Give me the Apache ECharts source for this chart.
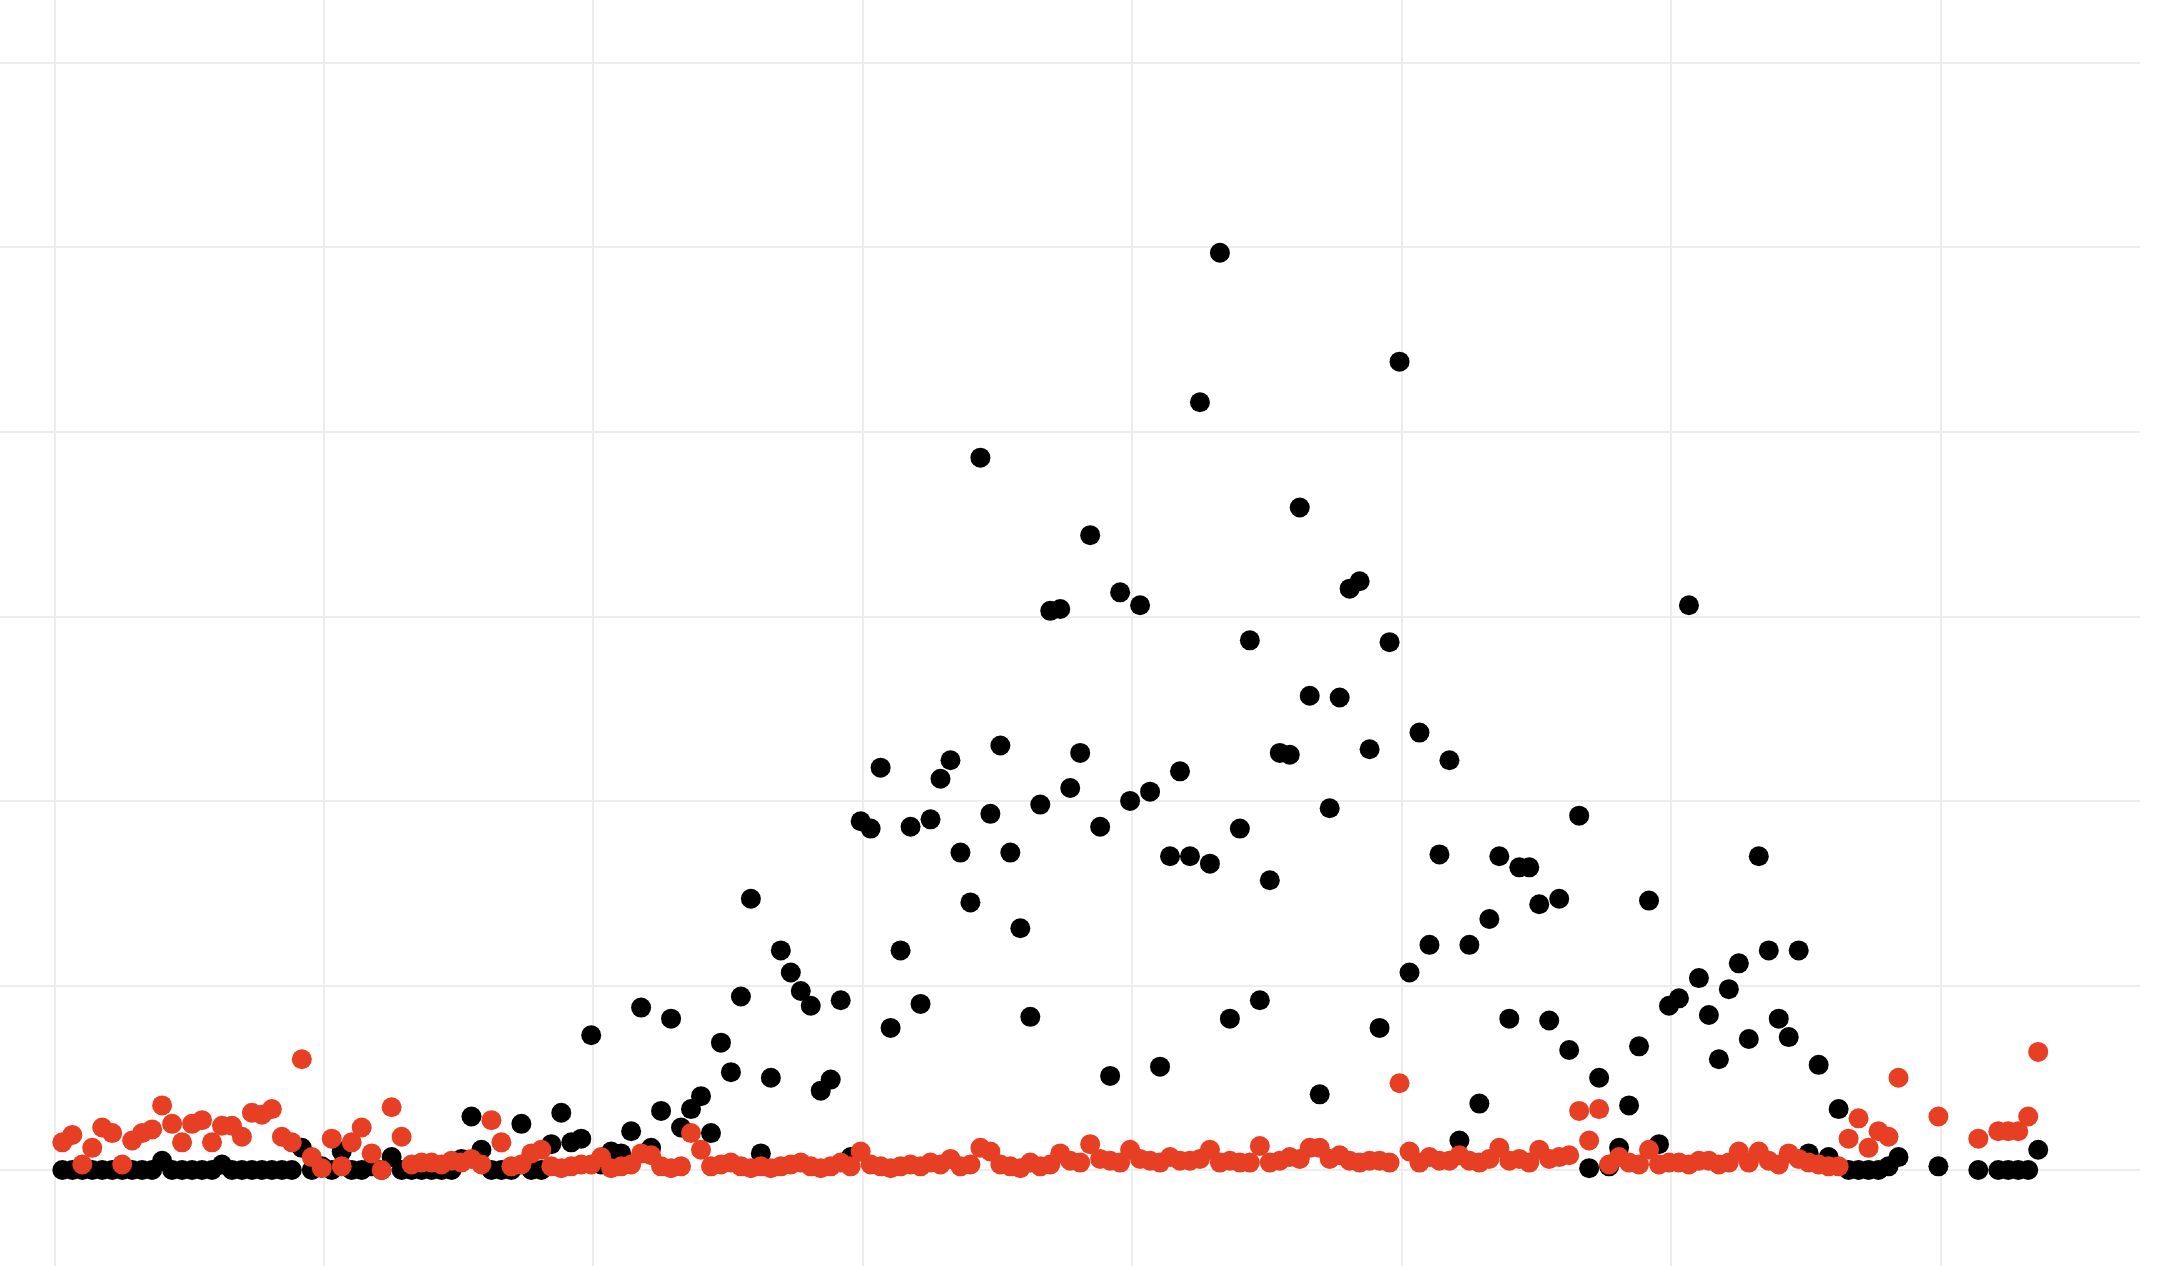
<!DOCTYPE html>
<html>
<head>
<meta charset="utf-8">
<title>scatter</title>
<script src="https://cdn.jsdelivr.net/npm/echarts@6/dist/echarts.min.js"></script>
<style>
  html, body { margin: 0; padding: 0; background: #ffffff; }
  #chart { width: 2174px; height: 1266px; }
</style>
</head>
<body>
<div id="chart"></div>
<script>
// one value per step along x (step index = position), null = no point that step
const blackA = [0,0,0,0,0,0,0,0,0,0, 5,0,0,0,0,0,3,0,0,0, 0,0,0,0,12,0,2,0,10,0,
  0,2,0,7,0,0,0,0,0,0, 6,29,11,0,0,0,25,0,0,14];
const blackB = [31,15,17,73,3,10,9,21,88,12, 32,82,23,33,40,20,69,53,94,147,
  9,50,119,107,97,89,43,49,92,7, 189,185,218,77,119,186,90,190,212,222,
  172,145,386,193,230,172,131,83,198,303];
const blackC = [304,207,226,344,186,51,313,200,306,205, 56,170,216,170,416,166,497,82,185,287,
  92,157,226,225,359,257,41,196,256,315, 319,228,77,286,438,107,237,122,171,222,
  16,122,36,136,170,82,164,164,144,81];
const blackD = [147,65,192,1,50,2,12,35,67,146, 14,89,93,306,104,84,60,98,112,71,
  170,119,82,72,119,9,57,7,33,0, 0,0,0,2,7,null,null,null,2,null,
  null,null,0,null,0,0,0,0,11];

const redA = [15,19,3,12,23,20,3,16,20,22, 35,25,15,25,27,15,24,24,18,31,
  30,33,18,15,60,7,1,17,2,15, 23,9,0,34,18,3,4,4,3,5,
  4,6,3,27,15,2,3,9,11,2];
const redB = [1,2,3,3,7,1,2,3,9,8, 2,1,2,20,11,2,3,4,2,1,
  2,1,2,3,4,2,1,2,4,2, 10,3,2,1,2,3,2,4,3,6,
  2,3,12,10,3,2,1,4,2,3];
const redC = [9,5,4,14,6,5,4,11,6,5, 4,7,5,5,6,11,4,5,4,4,
  13,4,5,7,6,12,12,6,8,5, 4,5,5,4,47,10,4,7,5,5,
  8,5,4,6,12,5,6,4,11,6];
const redD = [7,8,32,16,33,3,7,4,3,11, 3,4,4,3,5,5,3,4,10,4,
  10,5,3,9,6,4,3,2,2,17, 28,12,21,18,50,null,null,null,29,null,
  null,null,17,null,21,21,21,29,64];

function toPoints(values) {
  const out = [];
  values.forEach(function (v, i) {
    if (v !== null) out.push([i, v]);
  });
  return out;
}

const blackData = toPoints(blackA.concat(blackB, blackC, blackD));
const redData = toPoints(redA.concat(redB, redC, redD));

const chart = echarts.init(document.getElementById('chart'), null, { renderer: 'canvas' });

const gridLine = { show: true, showMinLine: false, showMaxLine: false, lineStyle: { color: '#ededed', width: 2 } };

const option = {
  backgroundColor: '#ffffff',
  animation: false,
  grid: {
    left: -215.1,
    right: 34,
    top: -121.85,
    bottom: -88.55,
    containLabel: false,
    outerBoundsMode: 'none'
  },
  xAxis: {
    type: 'value',
    min: -27.8,
    max: 208.2,
    interval: 27,
    axisLine: { show: false },
    axisTick: { show: false },
    axisLabel: { show: false },
    splitLine: gridLine
  },
  yAxis: {
    type: 'value',
    min: -100,
    max: 700,
    interval: 100,
    axisLine: { show: false },
    axisTick: { show: false },
    axisLabel: { show: false },
    splitLine: gridLine
  },
  series: [
    {
      name: 'black',
      type: 'scatter',
      symbol: 'circle',
      symbolSize: 20,
      itemStyle: { color: '#000000', opacity: 1 },
      data: blackData
    },
    {
      name: 'red',
      type: 'scatter',
      symbol: 'circle',
      symbolSize: 20,
      itemStyle: { color: '#e63f24', opacity: 1 },
      data: redData
    }
  ]
};

chart.setOption(option);
</script>
</body>
</html>
